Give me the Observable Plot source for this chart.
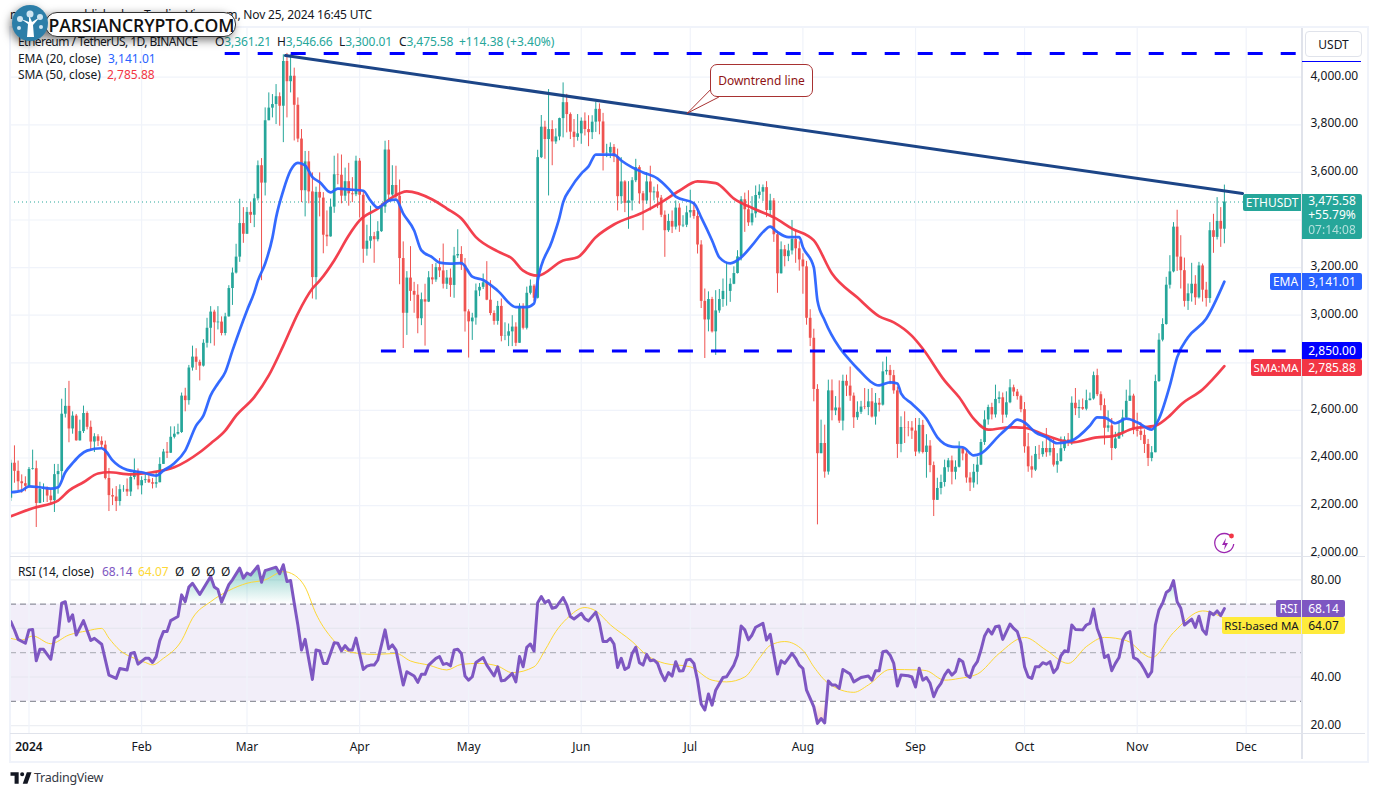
<!DOCTYPE html>
<html>
<head>
<meta charset="utf-8">
<script src="https://cdn.jsdelivr.net/npm/d3@7"></script>
<script src="https://cdn.jsdelivr.net/npm/@observablehq/plot@0.6"></script>
<style>
html,body{margin:0;padding:0;background:#fff;width:1377px;height:796px;overflow:hidden}
#page{position:relative;width:1377px;height:796px;overflow:hidden;font-family:"Noto Sans",sans-serif;font-size:12px;color:#131722}
#page svg{position:absolute}
.t{position:absolute;white-space:nowrap;line-height:16px}
.b{position:absolute;white-space:nowrap;text-align:center;color:#fff;font-size:12px;display:flex;align-items:center;justify-content:center;box-sizing:border-box}
</style>
</head>
<body>
<div id="page"></div>
<script>
const firstDay = -5; // Dec 27, 2023
const firstOpen = 2231;
const closes = [
2378,2344,2300,2292,2281,
2352,2355,2209,2268,2268,2240,2221,2330,2343,2584,2617,2522,2576,2472,2511,2587,2529,2467,2489,2470,2454,2314,2242,2236,2217,2267,2268,2257,2318,2344,2283,
2305,2309,2296,2290,2296,2373,2425,2420,2487,2500,2507,2660,2641,2778,2824,2802,2786,2882,2945,3013,2968,2971,2923,2993,3112,3177,3244,3385,3340,
3432,3420,3489,3628,3555,3817,3870,3885,3918,3878,4066,3981,4004,3882,3740,3523,3644,3518,3158,3516,3492,3336,3329,3454,3590,3588,3500,3561,3510,3506,3647,
3504,3277,3311,3330,3317,3351,3454,3694,3505,3545,3500,3238,3008,3156,3100,3084,2985,3065,3055,3157,3148,3200,3186,3130,3156,3125,3249,3255,3210,3014,
2972,2988,3102,3117,3136,3063,3007,2974,3037,2911,2912,2930,2950,2882,3037,2945,3092,3122,3071,3662,3790,3738,3780,3728,3749,3826,3893,3843,3769,3747,3762,
3815,3780,3767,3811,3865,3812,3680,3681,3705,3665,3498,3560,3470,3480,3565,3620,3510,3480,3560,3514,3518,3492,3420,3355,3394,3370,3450,3375,3378,3430,
3440,3415,3295,3058,2980,3066,2930,3018,3066,3100,3100,3130,3175,3245,3485,3443,3388,3426,3503,3517,3536,3440,3480,3338,3174,3275,3246,3270,3318,3279,3232,
3203,2987,2903,2688,2418,2461,2341,2682,2598,2610,2555,2722,2702,2660,2569,2592,2614,2612,2636,2572,2630,2622,2762,2768,2746,2682,2457,2528,2527,2526,2513,
2425,2537,2423,2450,2368,2222,2272,2297,2359,2388,2340,2361,2439,2417,2316,2295,2340,2370,2465,2560,2612,2581,2646,2653,2580,2632,2695,2677,2658,2603,
2447,2363,2349,2415,2414,2440,2422,2440,2370,2385,2439,2476,2467,2630,2607,2612,2605,2641,2648,2746,2666,2620,2525,2535,2440,2480,2506,2568,2638,2660,2518,
2512,2495,2457,2398,2422,2721,2895,2961,3126,3182,3370,3244,3187,3058,3090,3130,3073,3207,3105,3070,3355,3327,3394,3361.21,3475.58];
const highs = [
2391,2451,2387,2329,2321,
2360,2433,2387,2298,2291,2278,2266,2373,2373,2647,2692,2722,2594,2583,2559,2618,2594,2555,2502,2498,2489,2471,2356,2270,2280,2287,2284,2312,2329,2396,2354,
2321,2329,2329,2314,2342,2401,2436,2465,2531,2531,2542,2673,2693,2789,2870,2859,2811,2897,2987,3036,3021,3036,2993,3008,3124,3198,3298,3487,3452,
3452,3473,3508,3648,3658,3871,3934,3927,3969,3934,4094,4100,4094,4038,3913,3780,3688,3688,3598,3538,3598,3515,3438,3488,3668,3678,3673,3618,3638,3578,3668,
3658,3518,3378,3458,3348,3393,3468,3731,3734,3628,3626,3568,3308,3183,3288,3138,3128,3093,3130,3183,3213,3218,3238,3299,3188,3194,3285,3359,3288,3238,
3023,3008,3131,3133,3173,3225,3145,3018,3058,3068,2968,2963,2998,2968,3048,3048,3118,3148,3128,3693,3839,3815,3948,3817,3783,3828,3976,3928,3850,3822,3843,
3829,3850,3838,3838,3895,3888,3848,3718,3724,3717,3698,3662,3565,3561,3578,3655,3628,3520,3599,3626,3538,3548,3503,3438,3424,3438,3480,3468,3418,3458,
3525,3473,3448,3313,3110,3098,3075,3103,3108,3152,3221,3153,3203,3271,3498,3513,3523,3498,3543,3548,3547,3561,3508,3490,3353,3308,3293,3298,3398,3358,3308,
3258,3226,3023,2941,2708,2559,2538,2727,2728,2658,2724,2748,2748,2782,2673,2636,2638,2692,2688,2692,2671,2650,2803,2824,2789,2768,2698,2573,2594,2553,2553,
2566,2566,2558,2498,2473,2383,2315,2328,2391,2398,2408,2388,2468,2439,2428,2338,2373,2403,2478,2598,2622,2630,2706,2678,2673,2678,2729,2706,2688,2664,
2633,2503,2408,2448,2453,2468,2524,2475,2478,2418,2488,2489,2503,2657,2692,2643,2648,2685,2673,2761,2773,2678,2648,2598,2566,2508,2548,2601,2685,2727,2668,
2588,2548,2518,2478,2448,2748,2922,2985,3159,3250,3389,3441,3334,3240,3131,3218,3166,3222,3215,3138,3389,3424,3494,3452,3546.66];
const lows = [
2217,2294,2263,2252,2258,
2273,2349,2108,2208,2213,2213,2208,2171,2248,2308,2568,2464,2500,2471,2471,2503,2518,2433,2423,2448,2440,2308,2175,2200,2175,2198,2256,2238,2238,2308,2266,
2245,2293,2293,2270,2273,2301,2373,2398,2419,2480,2496,2503,2594,2622,2765,2768,2724,2782,2862,2880,2870,2938,2913,2913,2992,3041,3173,3222,3302,
3341,3385,3368,3480,3145,3501,3822,3829,3801,3794,3725,3829,3934,3732,3725,3473,3413,3468,3068,3064,3413,3258,3288,3328,3428,3548,3468,3478,3458,3473,3498,
3408,3218,3248,3278,3218,3308,3348,3428,3483,3498,3488,3128,2860,2915,3058,3008,2922,2956,2870,3053,3128,3138,3158,3110,3108,3075,3071,3238,3188,2929,
2820,2894,2958,3078,3108,3061,2998,2958,2958,2888,2893,2868,2868,2868,2888,2938,2938,3085,3058,3068,3658,3655,3501,3628,3718,3733,3745,3766,3738,3704,3731,
3718,3753,3708,3738,3768,3758,3606,3662,3658,3641,3438,3466,3431,3361,3438,3557,3466,3355,3466,3438,3480,3448,3410,3243,3348,3343,3358,3348,3368,3368,
3408,3403,3257,3028,2818,2930,2925,2831,3008,3033,3038,3054,3128,3173,3228,3348,3373,3375,3408,3488,3478,3410,3418,3306,3092,3173,3203,3225,3253,3218,3185,
3088,2958,2868,2636,2119,2419,2315,2328,2556,2578,2545,2514,2658,2638,2524,2558,2583,2603,2578,2568,2538,2593,2618,2748,2708,2668,2398,2422,2461,2489,2478,
2406,2417,2417,2315,2338,2154,2224,2245,2278,2340,2287,2308,2358,2388,2294,2259,2273,2287,2368,2453,2538,2560,2568,2628,2545,2568,2628,2658,2643,2590,
2420,2340,2315,2343,2393,2403,2403,2408,2362,2336,2383,2428,2448,2453,2578,2566,2600,2598,2640,2643,2658,2598,2454,2508,2389,2436,2478,2488,2563,2638,2498,
2488,2473,2419,2364,2384,2423,2718,2888,2958,3110,3178,3184,3110,3034,3020,3055,3041,3068,3055,3034,3050,3260,3316,3285,3300.01];

const emaPoints = [[-5,2256],[-2,2263],[0,2281],[3,2277],[6,2271],[8,2277],[10,2340],[12,2378],[14,2411],[16,2431],[20,2441],[21,2431],[23,2390],[27,2350],[31,2340],[35,2326],[37,2347],[40,2378],[43,2431],[46,2536],[48,2578],[50,2663],[52,2713],[54,2760],[56,2851],[60,3020],[62,3096],[63,3145],[65,3217],[67,3326],[68,3410],[70,3524],[72,3608],[74,3640],[76,3629],[78,3580],[80,3559],[83,3516],[85,3532],[89,3527],[92,3523],[94,3481],[96,3452],[99,3481],[101,3486],[103,3427],[106,3356],[108,3272],[111,3243],[113,3221],[116,3217],[119,3219],[122,3162],[125,3148],[129,3103],[134,3034],[137,3034],[139,3049],[140,3145],[144,3314],[146,3411],[147,3474],[149,3532],[152,3595],[154,3625],[156,3675],[161,3675],[163,3650],[166,3621],[169,3600],[173,3574],[176,3532],[178,3498],[183,3470],[185,3411],[188,3314],[190,3243],[193,3218],[196,3243],[199,3293],[202,3349],[204,3372],[206,3349],[209,3328],[212,3328],[213,3286],[216,3201],[217,3062],[219,2978],[223,2865],[226,2809],[228,2776],[234,2705],[237,2718],[239,2713],[240,2672],[243,2628],[247,2565],[250,2487],[254,2448],[257,2445],[260,2411],[262,2419],[267,2494],[270,2536],[272,2561],[274,2549],[277,2508],[280,2487],[283,2462],[287,2473],[292,2536],[294,2571],[296,2570],[299,2546],[302,2565],[305,2550],[309,2519],[311,2565],[314,2705],[316,2823],[319,2907],[324,2985],[329,3141.01]];
const smaPoints = [[-5,2155],[1,2189],[8,2221],[11,2263],[15,2298],[19,2335],[22,2340],[28,2331],[34,2340],[40,2361],[47,2424],[50,2461],[54,2515],[57,2578],[62,2656],[66,2747],[70,2872],[74,3007],[78,3112],[80,3145],[84,3230],[88,3335],[91,3398],[96,3448],[100,3495],[104,3520],[111,3486],[115,3448],[119,3406],[123,3328],[129,3268],[133,3237],[136,3187],[140,3166],[147,3230],[151,3243],[156,3328],[161,3381],[169,3432],[174,3474],[179,3523],[184,3562],[189,3555],[194,3490],[200,3444],[205,3411],[210,3364],[216,3314],[221,3175],[228,3074],[234,2995],[238,2970],[243,2913],[246,2859],[252,2725],[256,2655],[260,2565],[264,2519],[270,2529],[274,2527],[280,2494],[287,2466],[294,2487],[298,2491],[304,2524],[310,2536],[314,2578],[317,2624],[323,2688],[329,2785.88]];
const rsiPoints = [[-5,62.8],[-4,59.4],[-3,55.5],[-1,53.9],[0,59.4],[1,59.6],[2,46.7],[3,51.4],[4,51.4],[6,47.3],[7,56],[8,56.9],[9,70.4],[10,71],[11,63],[12,65.6],[13,57.3],[15,63.2],[17,55],[18,55.9],[20,53.5],[22,40.8],[24,39.4],[25,43.5],[27,42.9],[28,49.7],[29,50.1],[30,45.3],[32,47.7],[33,47.7],[34,46],[35,48.4],[36,55],[37,58.7],[38,58.7],[39,63.2],[41,64.9],[42,73.8],[43,71],[44,77],[45,78.6],[47,74],[50,81.4],[51,77],[52,76],[53,70.8],[55,78],[56,80],[58,84.8],[59,80.7],[60,82.8],[61,82],[63,85.7],[64,79],[65,83.8],[68,85.2],[69,82.5],[70,86.2],[71,79.3],[72,79.7],[73,70.4],[74,61.4],[75,51.1],[76,55.5],[78,39],[79,51.1],[80,50.7],[81,45.6],[82,45.6],[84,54.1],[85,53.9],[86,50.8],[87,52.9],[88,51.1],[89,51.1],[90,56],[92,43.1],[93,44.5],[94,44.9],[95,44.9],[96,47],[98,59.4],[99,51.6],[100,53.2],[101,51.1],[103,36.7],[104,42.2],[106,40.4],[107,37.8],[108,41.1],[109,41.1],[110,44.9],[112,47.7],[113,48.4],[114,45.2],[115,45.6],[116,44.6],[117,51.1],[118,51.4],[119,49.7],[120,40.4],[121,38.7],[122,40.1],[123,46],[125,48],[126,44.9],[128,40.4],[129,44.2],[130,38.4],[131,38.7],[133,41.5],[134,38],[135,48.4],[136,44.2],[137,52.2],[138,53.6],[139,50.7],[140,70.6],[141,73.1],[142,70.6],[143,71.5],[144,68.3],[145,68.7],[147,72.7],[148,69.7],[149,64.9],[150,63.9],[152,66.2],[153,63.9],[154,63.1],[156,66.7],[157,62.1],[158,54.6],[159,54.6],[160,55.9],[161,53.6],[162,43.9],[163,47.7],[164,43.1],[165,44],[166,49.7],[167,52.2],[168,45.9],[169,44.9],[170,49.3],[171,46.7],[172,47],[173,45.6],[174,41.5],[175,38.5],[176,41.8],[177,40.4],[178,46.3],[179,42.5],[180,42.6],[181,47],[182,47.3],[183,45.6],[184,38.7],[185,28.9],[186,26.4],[187,33],[188,28.4],[189,34.6],[191,39.8],[192,40.1],[194,44.9],[195,49],[196,61],[197,59.4],[198,55.3],[199,57.3],[200,60.5],[202,62.1],[203,55.2],[204,57.6],[206,41.2],[207,46.7],[208,45.6],[210,49.7],[211,47.7],[212,44.9],[213,43.5],[214,34.6],[215,31.2],[216,27.7],[217,20.9],[218,22.9],[219,21.1],[220,38.4],[221,36.7],[222,36.7],[223,35.3],[224,43.1],[226,41.2],[227,38],[229,39.8],[231,40.4],[232,38.7],[233,42.6],[234,42.6],[235,50.4],[236,50.7],[237,49],[238,45.6],[239,36.3],[240,40.8],[242,40.5],[243,40],[244,35.9],[245,43.6],[246,38.7],[247,39.8],[248,37.4],[249,31.9],[250,35.3],[251,37.4],[252,40.8],[253,42.9],[254,40.8],[255,42.2],[256,47.3],[257,46.3],[258,40.8],[259,39.8],[260,44.2],[261,46.3],[262,51.1],[263,56.9],[264,59.6],[265,57.7],[266,60.7],[267,61],[268,55.5],[270,61.8],[271,60],[272,58.7],[273,53.9],[274,44.2],[275,40.1],[276,39.4],[277,44.2],[278,44.2],[279,45.9],[280,45.3],[281,46.3],[282,41.8],[283,43.6],[284,48.7],[285,50.8],[286,50.4],[287,61.4],[288,59.6],[290,59.4],[291,61.4],[292,62.1],[293,68],[294,60],[295,55.9],[296,48],[297,49],[298,42.6],[299,45.6],[300,48],[301,55.2],[302,58],[303,58.7],[304,48],[305,47.3],[306,45.6],[307,43.1],[308,40.1],[309,42.2],[310,61.4],[311,67.6],[312,70.4],[313,74.8],[314,75.9],[315,79.7],[316,71],[317,68.3],[318,61.4],[320,63.8],[321,60.4],[322,65],[323,59.4],[324,57.6],[325,66.7],[326,65.6],[327,67.2],[328,65.3],[329,68.14]];
const rsiMaPoints = [[-5,55.9],[-2,55.2],[1,56.9],[6,53.7],[11,57.3],[16,59],[20,60],[22,56],[25,51],[29,47.7],[32,46],[34,45],[37,47.7],[42,55],[45,64.2],[50,71],[55,75.6],[60,78.6],[65,80],[70,83.4],[73,82],[76,77],[79,66],[83,56.6],[88,50.4],[95,49.3],[101,49.7],[105,46.6],[110,44.9],[115,42.9],[119,45.2],[124,45.6],[129,44.5],[133,41.8],[139,44.2],[142,51],[145,58.7],[148,64],[153,68.6],[156,67.2],[160,61.5],[166,54.6],[170,49],[175,45.6],[182,44.2],[188,38.7],[192,38],[197,40],[201,47.7],[204,53],[208,54.6],[213,51],[216,44.2],[220,37.4],[227,33.7],[231,36.7],[237,43.1],[245,42.9],[247,42.6],[252,38.7],[256,39.4],[261,41.2],[267,49.7],[274,56.3],[280,51],[286,45.6],[291,52.5],[296,56.3],[302,55],[309,48],[315,58.3],[323,67.2],[329,64.07]];

const priceTicks = [2000,2200,2400,2600,2800,3000,3200,3400,3600,3800,4000];
const priceTickLabels = [2000,2200,2400,2600,3000,3200,3600,3800,4000];
const rsiTicks = [20,40,60,80];
const rsiTickLabels = [20,40,80];
const rsiLevels = [70,50,30];
const resistanceLevel = {price:4100, fromDay:54, toDay:349};
const supportLevel = {price:2850, fromDay:97, toDay:346};
const trendLine = [[70.6,4091],[334,3511]];
const calloutTail = [[181.2,3849],[187.6,3948],[189.8,3916],[181.2,3849]];
const lastClose = 3475.58, lastEma = 3141.01, lastSma = 2785.88, lastRsi = 68.14, lastRsiMa = 64.07;

const day = d => new Date(Date.UTC(2024,0,1) + d*864e5);
const candles = closes.map((c,i)=>{
  const open = i ? closes[i-1] : firstOpen;
  return {date:day(firstDay+i), open, close:c,
    high:Math.max(highs[i],open,c), low:Math.min(lows[i],open,c),
    color: c>=open ? "#26a69a" : "#ef5350"};
});
const toRows = pts => pts.map(([d,v])=>({date:day(d), value:v}));
const ema = toRows(emaPoints), sma = toRows(smaPoints), rsi = toRows(rsiPoints), rsiMa = toRows(rsiMaPoints);
const xDomain = [day(-5.09), day(350.5)];
const months = d3.utcMonth.range(day(0), day(340));
const GRID = "#f0f3fa";
const FONT = '"Noto Sans",sans-serif';
const svgStyle = {background:"transparent",fontFamily:FONT,fontSize:"12px",color:"#131722",overflow:"visible"};
const page = document.getElementById("page");

const price = Plot.plot({
  width:1377,height:556,marginLeft:10,marginRight:75,marginTop:27,marginBottom:0,style:svgStyle,
  x:{type:"utc",domain:xDomain,axis:null},
  y:{domain:[1986.1,4208.8],axis:null},
  marks:[
    Plot.ruleY(priceTicks,{stroke:GRID,strokeWidth:1.2}),
    Plot.ruleX(months,{stroke:GRID,strokeWidth:1.2}),
    Plot.axisY(priceTickLabels,{anchor:"right",tickSize:0,tickPadding:8,dy:-1.5,tickFormat:d3.format(",.2f"),label:null}),
    Plot.ruleY([lastClose],{stroke:"#26a69a",strokeDasharray:"1,3"}),
    Plot.ruleX(candles,{x:"date",y1:"low",y2:"high",stroke:"color",strokeWidth:1,clip:true}),
    Plot.ruleX(candles,{x:"date",y1:"open",y2:"close",stroke:"color",strokeWidth:2.7,clip:true}),
    Plot.line(sma,{x:"date",y:"value",stroke:"#f23645",strokeWidth:2.7,strokeOpacity:.95,curve:"monotone-x",clip:true}),
    Plot.line(ema,{x:"date",y:"value",stroke:"#2962ff",strokeWidth:2.7,strokeOpacity:.95,curve:"monotone-x",clip:true}),
    Plot.ruleY([resistanceLevel],{y:"price",x1:d=>day(d.fromDay),x2:d=>day(d.toDay),stroke:"#0000ff",strokeWidth:3,strokeDasharray:"15,18"}),
    Plot.ruleY([supportLevel],{y:"price",x1:d=>day(d.fromDay),x2:d=>day(d.toDay),stroke:"#0000ff",strokeWidth:3,strokeDasharray:"15,18"}),
    Plot.line(trendLine,{x:d=>day(d[0]),y:d=>d[1],stroke:"#1c4587",strokeWidth:3}),
    Plot.line(calloutTail,{x:d=>day(d[0]),y:d=>d[1],stroke:"#a83232",strokeWidth:1,fill:"#fff",curve:"linear"})
  ]
});
price.style.left="0";price.style.top="0";page.appendChild(price);

const rsiPlot = Plot.plot({
  width:1377,height:204,marginLeft:10,marginRight:75,marginTop:0,marginBottom:27,style:svgStyle,
  x:{type:"utc",domain:xDomain,axis:null},
  y:{domain:[16.75,89.6],axis:null},
  marks:[
    () => {
      const defs = d3.create("svg:defs");
      const ob = defs.append("linearGradient").attr("id","obGrad").attr("x1",0).attr("y1",0).attr("x2",0).attr("y2",1);
      ob.append("stop").attr("offset",0).attr("stop-color","#26a69a").attr("stop-opacity",.55);
      ob.append("stop").attr("offset",1).attr("stop-color","#26a69a").attr("stop-opacity",0);
      const os = defs.append("linearGradient").attr("id","osGrad").attr("x1",0).attr("y1",0).attr("x2",0).attr("y2",1);
      os.append("stop").attr("offset",0).attr("stop-color","#ef5350").attr("stop-opacity",0);
      os.append("stop").attr("offset",1).attr("stop-color","#ef5350").attr("stop-opacity",.3);
      return defs.node();
    },
    Plot.rect([{y1:rsiLevels[2],y2:rsiLevels[0]}],{x1:xDomain[0],x2:xDomain[1],y1:"y1",y2:"y2",fill:"#7e57c2",fillOpacity:.1}),
    Plot.ruleY(rsiTicks,{stroke:"#dfe1ea",strokeOpacity:.55,strokeWidth:1.2}),
    Plot.ruleX(months,{stroke:GRID,strokeWidth:1.2,strokeOpacity:1,y1:16.75,y2:89.6}),
    Plot.axisY(rsiTickLabels,{anchor:"right",tickSize:0,tickPadding:8,tickFormat:d3.format(".2f"),label:null}),
    Plot.axisX(months.slice(1),{anchor:"bottom",tickSize:0,tickPadding:9,tickFormat:d3.utcFormat("%b"),label:null}),
    Plot.axisX(months.slice(0,1),{anchor:"bottom",tickSize:0,tickPadding:9,tickFormat:()=>"2024",label:null,fontWeight:600}),
    Plot.ruleY([70,30],{stroke:"#787b86",strokeDasharray:"6,4",strokeWidth:1}),
    Plot.ruleY([50],{stroke:"#a5a7b0",strokeDasharray:"6,4",strokeWidth:1}),
    Plot.areaY(rsi,{x:"date",y1:70,y2:d=>Math.max(d.value,70),fill:"url(#obGrad)"}),
    Plot.areaY(rsi,{x:"date",y1:30,y2:d=>Math.min(d.value,30),fill:"url(#osGrad)"}),
    Plot.line(rsiMa,{x:"date",y:"value",stroke:"#fdd835",strokeWidth:1,curve:"monotone-x"}),
    Plot.line(rsi,{x:"date",y:"value",stroke:"#7e57c2",strokeWidth:3,clip:true})
  ]
});
rsiPlot.style.left="0";rsiPlot.style.top="556px";page.appendChild(rsiPlot);

// chrome: frame and separators
function box(l,t,w,h,css){const e=document.createElement("div");e.style.cssText=`position:absolute;left:${l}px;top:${t}px;width:${w}px;height:${h}px;${css||""}`;page.appendChild(e);return e;}
box(9,26,1356,733,"border:2.5px solid #f0f3fa;pointer-events:none");
box(10,555.5,1355,1.5,"background:#e0e3eb");
box(10,732.5,1355,1.5,"background:#e0e3eb");
box(1301.3,28,1.3,731,"background:#e0e3eb");

function txt(s,l,cy,css){const e=document.createElement("div");e.className="t";e.textContent=s;e.style.cssText=`left:${l}px;top:${cy-8}px;${css||""}`;page.appendChild(e);return e;}
function badge(s,l,t,w,h,bg,css){const e=document.createElement("div");e.className="b";e.textContent=s;e.style.cssText=`left:${l}px;top:${t}px;width:${w}px;height:${h}px;background:${bg};${css||""}`;page.appendChild(e);return e;}

// USDT button
badge("USDT",1305,31,57,26,"#fff","color:#131722;border:1px solid #e0e3eb;border-radius:4px");
box(1302,60.5,59,1,"background:#0000ff");

// price badges, placed from the y scale
const py = v => price.scale("y").apply(v);
const ry = v => 556 + rsiPlot.scale("y").apply(v);
const TEAL="#26a69a",BLUE="#2962ff",RED="#f23645",PUR="#7e57c2",YEL="#ffeb3b";
{const c=py(lastClose)-8;
 badge("ETHUSDT",1243,c,58,17,TEAL,"border-radius:2px 0 0 2px");
 const v=box(1302,c,60,45,`background:${TEAL};border-radius:0 2px 2px 0;color:#fff;text-align:center;line-height:14.5px;padding-top:0`);
 v.innerHTML='<div>3,475.58</div><div>+55.79%</div><div style="opacity:.65">07:14:08</div>';}
{const c=py(lastEma)-8.5;badge("EMA",1270,c,31,17,BLUE,"border-radius:2px 0 0 2px");badge("3,141.01",1302,c,60,17,BLUE,"border-radius:0 2px 2px 0");}
{const c=py(2850)-8.5;badge("2,850.00",1302,c,60,17,"#0000ff","border-radius:0 2px 2px 0");}
{const c=py(lastSma)-7;badge("SMA:MA",1251,c,50,17,RED,"font-size:11.5px;border-radius:2px 0 0 2px");badge("2,785.88",1302,c,60,17,RED,"border-radius:0 2px 2px 0");}
{const c=ry(lastRsi)-8;badge("RSI",1276,c,25,17,PUR,"border-radius:2px 0 0 2px");badge("68.14",1302,c,43,17,PUR,"border-radius:0 2px 2px 0");
 badge("RSI-based MA",1222,c+17,79,17,YEL,"color:#131722;font-size:11.5px;border-radius:2px 0 0 2px");badge("64.07",1302,c+17,43,17,YEL,"color:#131722;border-radius:0 2px 2px 0");}

// callout box
{const e=box(710,64,103,33,"box-sizing:border-box;background:#fff;border:1px solid #a83232;border-radius:7px;color:#8f1414;display:flex;align-items:center;justify-content:center;font-size:12px");e.textContent="Downtrend line";}

// legends
txt("Ethereum / TetherUS, 1D, BINANCE",18,42,"letter-spacing:-.55px");
[["O","3,361.21",215],["H","3,546.66",277],["L","3,300.01",339],["C","3,475.58",399]].forEach(([k,v,x])=>{
  const e=txt(k,x,42,"letter-spacing:-.1px");const s=document.createElement("span");s.textContent=v;s.style.color=TEAL;e.appendChild(s);
});
txt("+114.38 (+3.40%)",459,42,`color:${TEAL}`);
txt("EMA (20, close)",18,59,"letter-spacing:-.1px");txt("3,141.01",108,59,`color:${BLUE}`);
txt("SMA (50, close)",18,75,"letter-spacing:-.1px");txt("2,785.88",107,75,`color:${RED}`);
txt("RSI (14, close)",18,572,"letter-spacing:-.1px");
txt("68.14",102,572,`color:${PUR}`);
txt("64.07",138,572,"color:#fdd835");
[175,191,206,221].forEach(x=>txt("Ø",x,572));

// top line and footer
txt("published on TradingView.com, Nov 25, 2024 16:45 UTC",0,15,"left:auto;right:1005px;letter-spacing:-.18px");
txt("n",10,15);
{const e=document.createElement("div");e.style.cssText="position:absolute;left:45px;top:12px;width:191px;height:25px;background:#fff;border:1px solid #333;border-radius:12px;box-sizing:border-box;box-shadow:-3px 3px 10px rgba(0,0,0,.55);display:flex;align-items:center;justify-content:center;padding-left:2px;font:600 17.6px 'Open Sans',sans-serif;color:#111;letter-spacing:-.1px";e.textContent="PARSIANCRYPTO.COM";page.appendChild(e);}
{const e=document.createElement("div");e.style.cssText="position:absolute;left:11px;top:4px;width:38px;height:38px";
 e.innerHTML='<svg width="38" height="38" viewBox="0 0 38 38" style="filter:drop-shadow(-2px 3px 4px rgba(0,0,0,.5))"><circle cx="19" cy="19" r="18" fill="#2c7ea8"/><path d="M16 33 L17 20 L10 15 L18 18 L18 11 L21 18 L29 13 L22 21 L23 33Z" fill="#fff"/><circle cx="19" cy="10" r="3.5" fill="#cfe6f2"/><circle cx="9" cy="15" r="3" fill="#cfe6f2"/><circle cx="29" cy="13" r="3" fill="#cfe6f2"/><circle cx="8" cy="24" r="2" fill="#cfe6f2"/><circle cx="30" cy="23" r="2" fill="#cfe6f2"/></svg>';
 page.appendChild(e);}
{const e=document.createElement("div");e.style.cssText="position:absolute;left:10px;top:771px;width:22px;height:14px";
 e.innerHTML='<svg width="22" height="14" viewBox="0 0 36 24"><path d="M14 2H0v6h7v14h7V2Zm15 20h-8l7-20h8l-7 20ZM20 9a3.5 3.5 0 1 0 0-7 3.5 3.5 0 0 0 0 7Z" fill="#131722"/></svg>';
 page.appendChild(e);}
txt("TradingView",34,778,"font-size:12.5px;letter-spacing:-.25px;color:#363a45");
// flash icon
{const e=document.createElement("div");e.style.cssText="position:absolute;left:1212px;top:531px;width:26px;height:26px";
 e.innerHTML='<svg width="26" height="26" viewBox="0 0 26 26"><path d="M20 6.5A9.5 9.5 0 1 0 21.7 13" fill="none" stroke="#9c27b0" stroke-width="1.3"/><path d="M14 7l-4 7h3l-1 5 4-7h-3z" fill="#9c27b0"/><circle cx="19.5" cy="5" r="2.4" fill="#f23645"/></svg>';
 page.appendChild(e);}
</script>
</body>
</html>
